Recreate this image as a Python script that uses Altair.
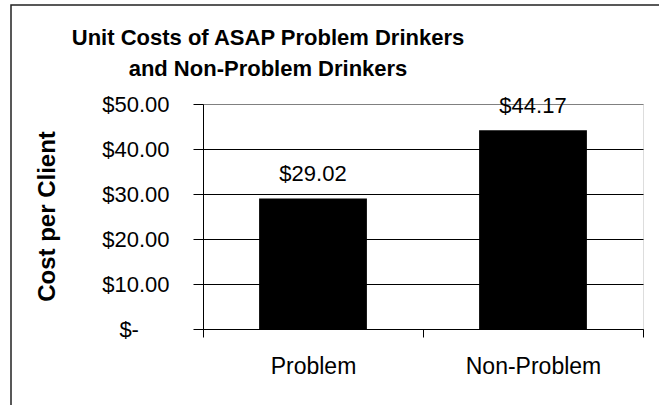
import altair as alt
import pandas as pd

# Chart data
groups = ["Problem", "Non-Problem"]
unit_costs = [29.02, 44.17]
y_ticks = [0, 10, 20, 30, 40, 50]
title_lines = ["Unit Costs of ASAP Problem Drinkers", "and Non-Problem Drinkers"]

df = pd.DataFrame({"group": groups, "cost": unit_costs})
df["label"] = ["$" + f"{v:.2f}" for v in unit_costs]

FONT = "Liberation Sans"
# Accounting-style zero: "$-" sits left of the right-aligned column.
# The zero-width space at the end stops the padding from being trimmed.
PAD = "\u00a0" * 5 + "\u200b"

x_enc = alt.X(
    "group:N",
    sort=groups,
    title=None,
    scale=alt.Scale(paddingInner=0, paddingOuter=0),
    axis=alt.Axis(
        labelAngle=0,
        tickBand="extent",
        tickSize=8,
        tickColor="black",
        domainColor="black",
        labelFont=FONT,
        labelFontSize=23,
        labelColor="black",
        labelPadding=18,
        grid=False,
    ),
)

y_enc = alt.Y(
    "cost:Q",
    title="Cost per Client",
    scale=alt.Scale(domain=[0, 50], nice=False),
    axis=alt.Axis(
        values=y_ticks,
        labelExpr="datum.value === 0 ? '$-" + PAD + "' : '$' + format(datum.value, '.2f')",
        labelFont=FONT,
        labelFontSize=22,
        labelColor="black",
        labelPadding=24,
        tickSize=10,
        tickColor="black",
        domainColor="black",
        gridColor={"condition": {"test": "datum.value === 50", "value": "#808080"}, "value": "#000000"},
        gridWidth=1,
        titleFont=FONT,
        titleFontSize=24,
        titleFontWeight="bold",
        titleColor="black",
        titleAngle=270,
        titleAlign="center",
        titleBaseline="middle",
        titleX=-156,
        titleY=112,
    ),
)

# Outer chart frame
frame = alt.Chart(alt.Data(values=[{}])).mark_rect(
    filled=False, stroke="#222222", strokeWidth=1.5
).encode(
    x=alt.value(-192), y=alt.value(-99), x2=alt.value(900), y2=alt.value(800)
)

# Two-line heading
title_top = alt.Chart(alt.Data(values=[{}])).mark_text(
    text=title_lines[0], font=FONT, fontSize=22, fontWeight="bold",
    color="black", align="center", baseline="alphabetic",
).encode(x=alt.value(65), y=alt.value(-59))

title_bottom = alt.Chart(alt.Data(values=[{}])).mark_text(
    text=title_lines[1], font=FONT, fontSize=22, fontWeight="bold",
    color="black", align="center", baseline="alphabetic",
).encode(x=alt.value(65), y=alt.value(-28))

bars = alt.Chart(df).mark_bar(color="black", width=alt.RelativeBandSize(0.49)).encode(
    x=x_enc, y=y_enc
)

labels = alt.Chart(df).mark_text(
    baseline="alphabetic", dy=-17, font=FONT, fontSize=22, color="black"
).encode(x=alt.X("group:N", sort=groups), y=alt.Y("cost:Q"), text="label:N")

chart = (
    alt.layer(frame, title_top, title_bottom, bars, labels)
    .properties(
        width=440,
        height=225,
        padding={"left": 203, "top": 104, "right": 16, "bottom": 76},
        autosize=alt.AutoSizeParams(type="none"),
    )
    .configure_view(stroke="#808080", strokeWidth=1.5)
    .configure(background="white")
)

chart.save("out.html", embed_options={"renderer": "svg", "actions": False})
